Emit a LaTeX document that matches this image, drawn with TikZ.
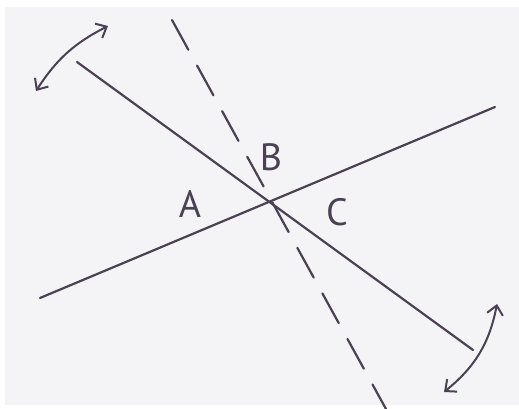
\documentclass[tikz,border=0pt]{standalone}
\usepackage{fontspec}
\setsansfont{PT Sans}
\usepackage{tikz}
\usetikzlibrary{arrows.meta}
\definecolor{ink}{HTML}{4A4152}
\definecolor{paper}{HTML}{F4F4F7}

\begin{document}
\begin{tikzpicture}[x=1pt, y=-1pt,
        every node/.style={font=\sffamily\fontsize{38}{38}\selectfont, text=ink},
        stroke/.style={draw=ink, line width=2.2pt, line cap=round},
        dashline/.style={stroke, dash pattern=on 34pt off 18pt},
        swing/.style={stroke, line width=2pt, {Straight Barb[length=9pt, width=16pt]}-{Straight Barb[length=9pt, width=16pt]}}]
      \useasboundingbox (0,0) rectangle (519,409);
      \fill[white] (0,0) rectangle (519,409);
      \fill[paper] (5,7) rectangle (519,405);
      % line ends
      \coordinate (p1) at (77,62);
      \coordinate (p2) at (473,350);
      \coordinate (q1) at (40,298);
      \coordinate (q2) at (495,107);
      \coordinate (d1) at (172,20);
      \coordinate (d2) at (386,409);
      \draw[stroke] (p1) -- (p2);
      \draw[stroke] (q1) -- (q2);
      \draw[dashline] (d1) -- (d2);
      % labels
      \node (a) at (190,204) {A};
      \node (b) at (271,157) {B};
      \node (c) at (337,212) {C};
      % swing arrows
      \coordinate (s1) at (36,91);
      \coordinate (s2) at (108,26);
      \coordinate (t1) at (444,392);
      \coordinate (t2) at (497,304);
      \draw[swing] (s1) to[bend left=15] (s2);
      \draw[swing] (t1) to[bend right=20] (t2);
    \end{tikzpicture}
\end{document}
